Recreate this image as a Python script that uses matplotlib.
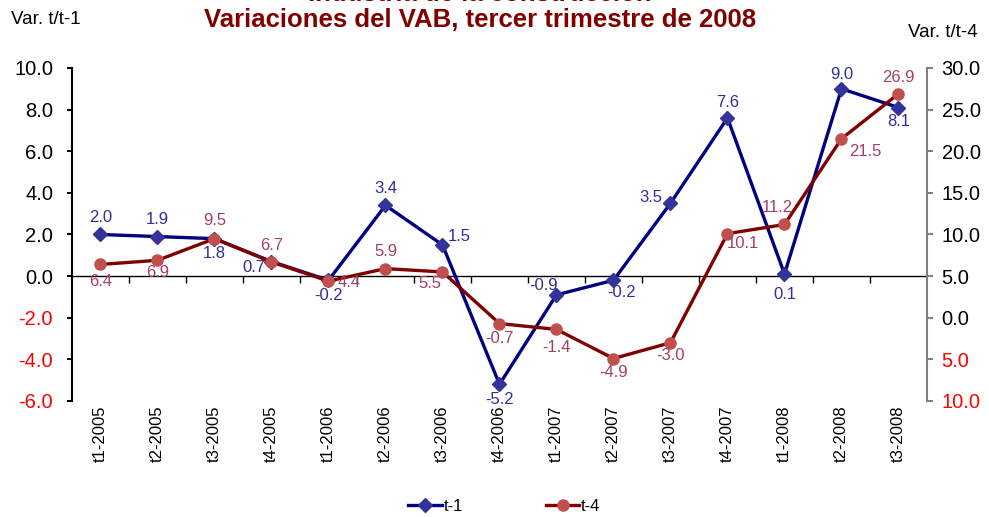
import numpy as np
import matplotlib.pyplot as plt

plt.rcParams['font.family'] = ['Liberation Sans', 'DejaVu Sans']

quarters = ['t1-2005', 't2-2005', 't3-2005', 't4-2005', 't1-2006', 't2-2006', 't3-2006',
            't4-2006', 't1-2007', 't2-2007', 't3-2007', 't4-2007', 't1-2008', 't2-2008', 't3-2008']
t1 = [2.0, 1.9, 1.8, 0.7, -0.2, 3.4, 1.5, -5.2, -0.9, -0.2, 3.5, 7.6, 0.1, 9.0, 8.1]
t4 = [6.4, 6.9, 9.5, 6.7, 4.4, 5.9, 5.5, -0.7, -1.4, -4.9, -3.0, 10.1, 11.2, 21.5, 26.9]

# label offsets (points)
off1 = [(0, 12), (0, 12), (0, -11), (-13, -4), (0, -11), (0, 12), (12, 6), (0, -11),
        (-9, 7), (6, -9), (-14, 4), (0, 11), (0, -15), (0, 10), (0, -10)]
off4 = [(0, -12), (0, -9), (0, 13), (0, 12), (15, -1), (0, 12), (-9, -8), (0, -11),
        (0, -13), (0, -10), (0, -9), (11, -7), (-5, 12), (17, -9), (0, 12)]

blue_line, blue_mk, blue_txt = '#000080', '#333399', '#2E2E96'
red_line, red_mk, red_txt = '#800000', '#C0504D', '#A0406A'

fig = plt.figure(figsize=(9.89, 5.17), dpi=100)
ax = fig.add_axes([0.0728, 0.2244, 0.8645, 0.6441])
ax2 = ax.twinx()

x = np.arange(len(quarters))
l1, = ax.plot(x, t1, color=blue_line, lw=2.4, marker='D', ms=7,
              mfc=blue_mk, mec=blue_mk, zorder=4, label='t-1')
l4, = ax2.plot(x, t4, color=red_line, lw=2.4, marker='o', ms=8,
               mfc=red_mk, mec=red_mk, zorder=3, label='t-4')

for i in range(len(x)):
    ax.annotate(f'{t1[i]:.1f}', (x[i], t1[i]), xytext=off1[i], textcoords='offset points',
                ha='center', va='center', fontsize=12, color=blue_txt, zorder=6)
    ax2.annotate(f'{t4[i]:.1f}', (x[i], t4[i]), xytext=off4[i], textcoords='offset points',
                 ha='center', va='center', fontsize=12, color=red_txt, zorder=6)

ax.set_xlim(-0.5, len(quarters) - 0.5)
ax.set_ylim(-6, 10)
ax2.set_ylim(-10, 30)

lt = np.arange(-6, 11, 2)
ax.set_yticks(lt)
ax.set_yticklabels([f'{v:.1f}' for v in lt], fontsize=14.5)
for lab, v in zip(ax.get_yticklabels(), lt):
    lab.set_color('red' if v < 0 else 'black')

rt = np.arange(-10, 31, 5)
ax2.set_yticks(rt)
ax2.set_yticklabels([f'{abs(v):.1f}' for v in rt], fontsize=14.5)
for lab, v in zip(ax2.get_yticklabels(), rt):
    lab.set_color('red' if v < 0 else 'black')

ax.set_xticks(x)
ax.set_xticklabels(quarters, rotation=90, fontsize=12)
ax.tick_params(axis='x', length=0, pad=3)
ax.tick_params(axis='y', length=3.6, width=1.5, color='black', pad=10)
ax2.tick_params(axis='y', length=4.5, width=1.5, color='#808080', pad=6)

for a in (ax, ax2):
    a.spines['top'].set_visible(False)
    a.spines['bottom'].set_visible(False)
ax.spines['right'].set_visible(False)
ax2.spines['left'].set_visible(False)
ax.spines['left'].set_linewidth(1.5)
ax2.spines['right'].set_linewidth(1.5)
ax2.spines['right'].set_color('#808080')

# zero axis with ticks between categories
zax = ax.secondary_xaxis(6 / 16)
zax.set_xticks(x[:-1] + 0.5)
zax.set_xticklabels([])
zax.tick_params(length=5, width=1, direction='out')
zax.spines['bottom'].set_linewidth(1)

fig.text(0.485, 1.012, 'Industria de la construcción', ha='center', va='center',
         fontsize=18.5, fontweight='bold', color='#800000')
fig.text(0.485, 0.962, 'Variaciones del VAB, tercer trimestre de 2008', ha='center', va='center',
         fontsize=18.5, fontweight='bold', color='#800000')
fig.text(0.011, 0.962, 'Var. t/t-1', ha='left', va='center', fontsize=13.5)
fig.text(0.988, 0.938, 'Var. t/t-4', ha='right', va='center', fontsize=13.5)

fig.legend(handles=[l1, l4], loc='center', bbox_to_anchor=(0.51, 0.02), ncol=2,
           frameon=False, fontsize=12, handlelength=2, handletextpad=0.1, columnspacing=5)

fig.savefig('out.png', dpi=100)
